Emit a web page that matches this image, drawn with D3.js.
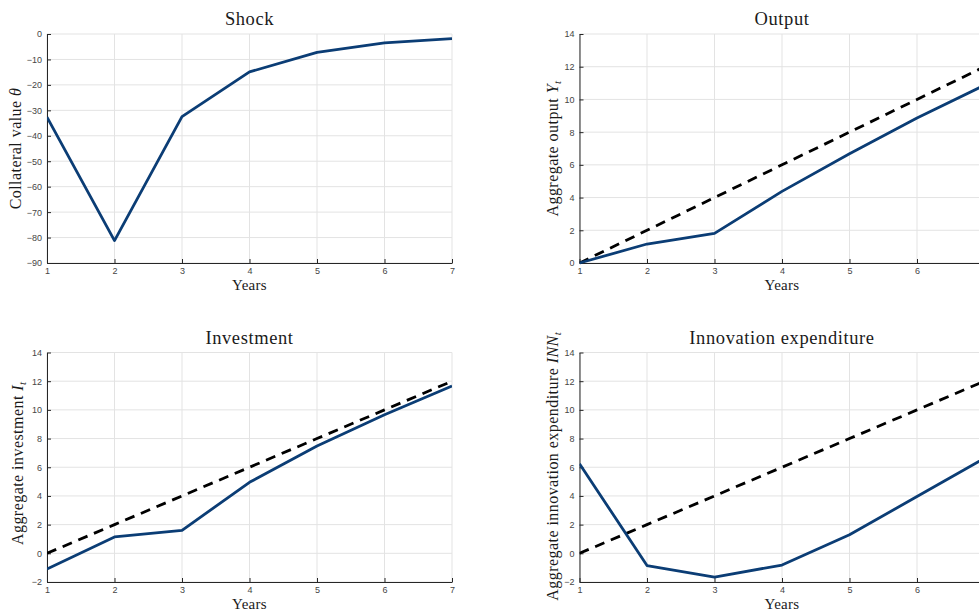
<!DOCTYPE html>
<html>
<head>
<meta charset="utf-8">
<script src="https://cdn.jsdelivr.net/npm/d3@7"></script>
<style>
  html, body { margin: 0; padding: 0; background: #fff; }
  svg { display: block; }
  .tick text { font-family: "Liberation Sans", Arial, sans-serif; font-size: 9px; }
  .serif { font-family: "Liberation Serif", "Times New Roman", serif; fill: #1a1a1a; }
</style>
</head>
<body>
<svg id="fig" width="979" height="612"></svg>
<script>
// Impulse responses over the years after the collateral shock
const years = [1, 2, 3, 4, 5, 6, 7];
const shock = [-32.7, -81.2, -32.5, -14.9, -7.2, -3.5, -1.8];
const output = [0, 1.16, 1.81, 4.38, 6.68, 8.86, 10.87];
const investment = [-1.1, 1.14, 1.6, 4.95, 7.48, 9.66, 11.66];
const innovation = [6.24, -0.85, -1.66, -0.82, 1.29, 3.96, 6.63];
const trend = [0, 2, 4, 6, 8, 10, 12];

const shockTicks = [-90, -80, -70, -60, -50, -40, -30, -20, -10, 0];
const levelTicks = [0, 2, 4, 6, 8, 10, 12, 14];
const levelTicksNeg = [-2, 0, 2, 4, 6, 8, 10, 12, 14];

const svg = d3.select("#fig");
const W = +svg.attr("width");
const navy = "#0b3d75";

function panel(opt) {
  const { left, top, width, height, yDomain, yTicks, title, ylabel, series, dashed, clipId } = opt;
  const g = svg.append("g").attr("transform", `translate(${left},${top})`);
  const x = d3.scaleLinear().domain([1, 7]).range([0, width]);
  const y = d3.scaleLinear().domain(yDomain).range([height, 0]);
  // only label the years that fall inside the figure
  const shownYears = years.filter(d => left + x(d) < W - 2);

  g.append("clipPath").attr("id", clipId)
    .append("rect").attr("x", 0).attr("y", -2).attr("width", width).attr("height", height + 4);

  // grid
  const grid = g.append("g");
  grid.selectAll(".gx").data(years).join("line")
    .attr("x1", d => x(d)).attr("x2", d => x(d))
    .attr("y1", 0).attr("y2", height)
    .attr("stroke", "#e3e3e3").attr("stroke-width", 1);
  grid.selectAll(".gy").data(yTicks).join("line")
    .attr("x1", 0).attr("x2", width)
    .attr("y1", d => y(d)).attr("y2", d => y(d))
    .attr("stroke", "#e3e3e3").attr("stroke-width", 1);

  // axes with inward ticks
  const xa = g.append("g").attr("transform", `translate(0,${height})`)
    .call(d3.axisBottom(x).tickValues(shownYears).tickFormat(d3.format("d")).tickSizeInner(-4).tickSizeOuter(0).tickPadding(6));
  const ya = g.append("g")
    .call(d3.axisLeft(y).tickValues(yTicks).tickFormat(d3.format("d")).tickSizeInner(-4).tickSizeOuter(0).tickPadding(5));
  [xa, ya].forEach(a => {
    a.select(".domain").attr("stroke", "#262626").attr("stroke-width", 1);
    a.selectAll(".tick line").attr("stroke", "#262626");
    a.selectAll(".tick text").attr("fill", "#454545");
  });
  xa.selectAll(".tick text").attr("dy", "0.6em");

  const line = d3.line().x((d, i) => x(years[i])).y(d => y(d));
  const plot = g.append("g").attr("clip-path", `url(#${clipId})`);
  if (dashed) {
    plot.append("path").datum(dashed).attr("d", line)
      .attr("fill", "none").attr("stroke", "#000").attr("stroke-width", 2.8)
      .attr("stroke-dasharray", "10,7");
  }
  plot.append("path").datum(series).attr("d", line)
    .attr("fill", "none").attr("stroke", navy).attr("stroke-width", 2.8)
    .attr("stroke-linejoin", "round");

  g.append("text").attr("class", "serif")
    .attr("x", width / 2).attr("y", -9).attr("text-anchor", "middle")
    .attr("font-size", 18.5).attr("letter-spacing", 0.6).text(title);

  g.append("text").attr("class", "serif")
    .attr("x", width / 2).attr("y", height + 27).attr("text-anchor", "middle")
    .attr("font-size", 15).attr("letter-spacing", 0.3).text("Years");

  const yl = g.append("text").attr("class", "serif")
    .attr("transform", `translate(${opt.ylabelX},${height / 2 + (opt.ylabelDy || 0)}) rotate(-90)`)
    .attr("text-anchor", "middle").attr("font-size", 16).attr("letter-spacing", 0.45);
  yl.append("tspan").text(ylabel[0]);
  yl.append("tspan").attr("font-style", "italic").text(ylabel[1]);
  if (ylabel[2]) {
    yl.append("tspan").attr("font-style", "italic").attr("font-size", 11).attr("dy", 3).text(ylabel[2]);
  }
}

panel({ left: 47, top: 34, width: 405, height: 229, yDomain: [-90, 0], yTicks: shockTicks,
  title: "Shock", ylabel: ["Collateral value ", "\u03B8"], series: shock, ylabelX: -26, clipId: "c1" });
panel({ left: 579.5, top: 34, width: 405, height: 229, yDomain: [0, 14], yTicks: levelTicks,
  title: "Output", ylabel: ["Aggregate output ", "Y", "t"], series: output, dashed: trend, ylabelX: -22, clipId: "c2" });
panel({ left: 47, top: 352.5, width: 405, height: 229.5, yDomain: [-2, 14], yTicks: levelTicksNeg,
  title: "Investment", ylabel: ["Aggregate investment ", "I", "t"], series: investment, dashed: trend, ylabelX: -24, ylabelDy: -4, clipId: "c3" });
panel({ left: 579.5, top: 352.5, width: 405, height: 229.5, yDomain: [-2, 14], yTicks: levelTicksNeg,
  title: "Innovation expenditure", ylabel: ["Aggregate innovation expenditure ", "INN", "t"], series: innovation, dashed: trend, ylabelX: -22, ylabelDy: -1, clipId: "c4" });
</script>
</body>
</html>
